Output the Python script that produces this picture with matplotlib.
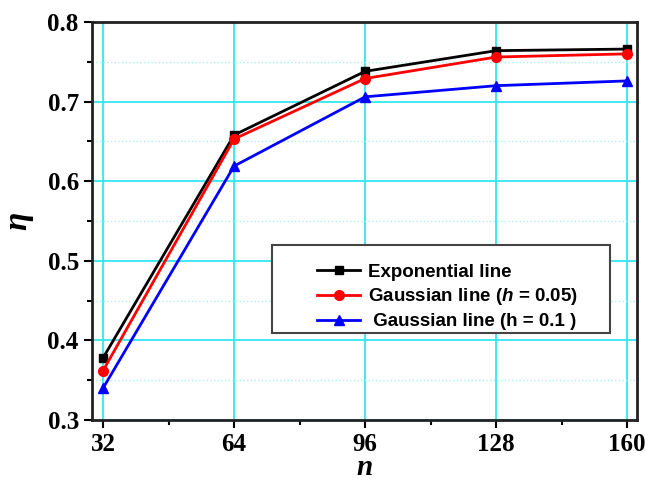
import matplotlib
matplotlib.use("Agg")
import matplotlib.pyplot as plt
from matplotlib.ticker import MultipleLocator, FixedLocator, FormatStrFormatter
from matplotlib.patches import Rectangle

n = [32, 64, 96, 128, 160]
exp_line = [0.378, 0.658, 0.738, 0.764, 0.766]
gauss_005 = [0.362, 0.653, 0.729, 0.756, 0.760]
gauss_01 = [0.340, 0.619, 0.706, 0.720, 0.726]
labels = ["Exponential line", "Gaussian line ($\\mathbfit{h}$ = 0.05)", " Gaussian line (h = 0.1 )"]

plt.rcParams["mathtext.fontset"] = "custom"
plt.rcParams["mathtext.bfit"] = "Liberation Sans:bold:italic"

fig = plt.figure(figsize=(6.55, 4.8), dpi=100)
ax = fig.add_axes([92/655, 60/480, 545/655, 398/480])

ax.plot(n, exp_line, color="black", marker="s", ms=6, lw=2, label=labels[0], zorder=3)
ax.plot(n, gauss_005, color="red", marker="o", ms=7, lw=2, label=labels[1], zorder=3)
ax.plot(n, gauss_01, color="blue", marker="^", ms=7, lw=2, label=labels[2], zorder=3)

ax.set_xlim(29.3, 162.4)
ax.set_ylim(0.3, 0.8)
ax.xaxis.set_major_locator(FixedLocator(n))
ax.xaxis.set_minor_locator(FixedLocator([48, 80, 112, 144]))
ax.yaxis.set_major_locator(MultipleLocator(0.1))
ax.yaxis.set_minor_locator(MultipleLocator(0.05))
ax.yaxis.set_major_formatter(FormatStrFormatter("%.1f"))
ax.grid(which="major", color="#33e6f0", lw=1.3, ls="-")
ax.yaxis.grid(which="minor", color="#a8f2f6", lw=1.0, ls=":")
ax.set_axisbelow(True)

for s in ax.spines.values():
    s.set_linewidth(2)
    s.set_color("#222222")
ax.tick_params(which="major", direction="out", length=6, width=1.5, top=False, right=False)
ax.tick_params(which="minor", direction="out", length=3.5, width=1.5, top=False, right=False)
for lab in ax.get_xticklabels() + ax.get_yticklabels():
    lab.set_fontfamily("Liberation Serif")
    lab.set_fontweight("bold")
    lab.set_fontsize(18)

fig.text((92 + 545/2)/655, 5/480, "n", fontfamily="Liberation Serif", fontstyle="italic",
         fontweight="bold", fontsize=21, ha="center", va="baseline")
ax.set_ylabel("η", fontfamily="Liberation Serif", fontstyle="italic", fontweight="bold", fontsize=24, labelpad=10)

# legend frame
x0, x1 = (272-92)/545, (610-92)/545
y1, y0 = (420-245)/398, (420-333)/398
ax.add_patch(Rectangle((x0, y0), x1-x0, y1-y0, transform=ax.transAxes, facecolor="white",
                       edgecolor="#444444", lw=1.5, zorder=4))
leg = ax.legend(loc="center left", bbox_to_anchor=((317-92)/545, (y0+y1)/2 - 0.02),
                prop={"family": "Liberation Sans", "weight": "bold", "size": 13.5},
                frameon=False, handlelength=2.3, labelspacing=0.3,
                borderpad=0, handletextpad=0.4, borderaxespad=0)
leg.set_zorder(5)

fig.savefig("out.png", dpi=100)
